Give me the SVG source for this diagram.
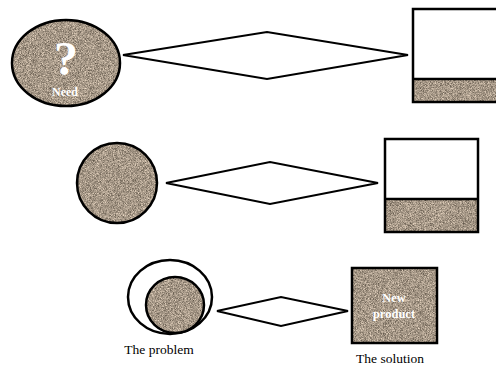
<svg xmlns="http://www.w3.org/2000/svg" width="496" height="367" viewBox="0 0 496 367">
<defs>
<filter id="grain" x="0" y="0" width="100%" height="100%" color-interpolation-filters="sRGB">
<feTurbulence type="fractalNoise" baseFrequency="1.4" numOctaves="1" seed="4" result="n"/>
<feColorMatrix in="n" type="matrix" values="0.9 0 0 0 0.2  0.85 0 0 0 0.17  0.8 0 0 0 0.13  0 0 0 0 1" result="c"/>
<feComposite in="c" in2="SourceGraphic" operator="in"/>
</filter>
</defs>
<style>
.tex{fill:#a69887;filter:url(#grain)}
.ol{fill:none;stroke:#000;stroke-width:2.5}
.dia{fill:#fff;stroke:#000;stroke-width:2;stroke-linejoin:miter}
.wt{font-family:"Liberation Serif",serif;font-weight:bold;fill:#fff;text-anchor:middle}
.lb{font-family:"Liberation Serif",serif;font-size:13.5px;fill:#000;text-anchor:middle}
</style>
<rect width="496" height="367" fill="#fff"/>

<g id="need">
<ellipse class="tex" cx="66" cy="63" rx="54" ry="43"/>
<ellipse class="ol" cx="66" cy="63" rx="54" ry="43"/>
<text class="wt" x="66" y="75" font-size="48">?</text>
<text class="wt" x="65" y="96" font-size="12">Need</text>
</g>

<g id="circle2">
<ellipse class="tex" cx="117" cy="183" rx="40" ry="40"/>
<ellipse class="ol" cx="117" cy="183" rx="40" ry="40"/>
</g>

<g id="problem">
<ellipse class="ol" cx="170" cy="297" rx="42" ry="37"/>
<ellipse class="tex" cx="175" cy="305" rx="29" ry="28"/>
<ellipse class="ol" cx="175" cy="305" rx="29" ry="28"/>
<text class="lb" x="159" y="354">The problem</text>
</g>

<g id="rect1">
<rect x="413" y="9" width="90" height="70" fill="#fff"/>
<rect class="tex" x="413" y="79" width="90" height="23"/>
<rect class="ol" x="413" y="9" width="90" height="93"/>
<line class="ol" x1="413" y1="79" x2="503" y2="79"/>
</g>

<g id="rect2">
<rect class="tex" x="385" y="199" width="93" height="33"/>
<rect class="ol" x="385" y="139" width="93" height="93"/>
<line class="ol" x1="385" y1="199" x2="478" y2="199"/>
</g>

<g id="solution">
<rect class="tex" x="352" y="268" width="85" height="75"/>
<rect class="ol" x="352" y="268" width="85" height="75"/>
<text class="wt" x="394" y="302" font-size="12.5">New</text>
<text class="wt" x="394" y="318" font-size="12.5">product</text>
<text class="lb" x="390" y="363">The solution</text>
</g>

<g id="connectors">
<polygon class="dia" points="123,55 267,32 408,55 267,79"/>
<polygon class="dia" points="166,183 270,162 378,183 270,204"/>
<polygon class="dia" points="217,311 281,297 348,311 281,326"/>
</g>
</svg>
